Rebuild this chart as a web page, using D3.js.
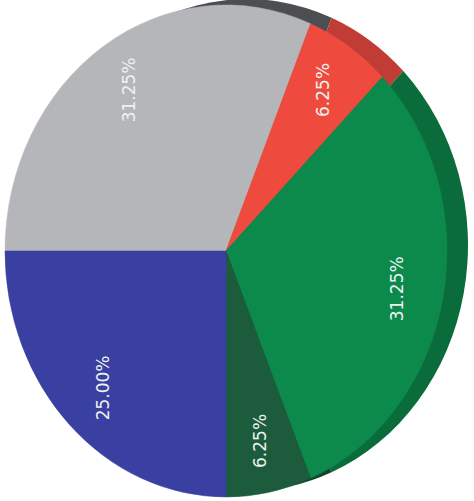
<!DOCTYPE html>
<html>
<head>
<meta charset="utf-8">
<script src="https://cdn.jsdelivr.net/npm/d3@7"></script>
<style>
  body { margin: 0; background: #fff; }
  svg { display: block; }
</style>
</head>
<body>
<script>
// slices, clockwise from 9 o'clock
const labels = ["31.25%", "6.25%", "31.25%", "6.25%", "25.00%"];
const values = [31.25, 6.25, 31.25, 6.25, 25.00];
const topColors = ["#b5b6ba", "#ee4b3e", "#0b8a4c", "#1c5b3b", "#3a40a2"];
const sideColors = ["#4d4e52", "#c13c35", "#0a6b3b", "#14442c", "#262a70"];

const width = 474, height = 501;
const cx = 226, cy = 251, r = 221, sy = 246 / 221;

const svg = d3.select("body").append("svg")
    .attr("width", width).attr("height", height);

const pie = d3.pie().value(d => d).sort(null)
    .startAngle(-Math.PI / 2).endAngle(Math.PI * 1.5);
const arcs = pie(values);

const arc = d3.arc().innerRadius(0).outerRadius(r);
const labelArc = d3.arc().innerRadius(174).outerRadius(174);

// side (depth) drawn first, offset up-right
svg.append("g")
    .attr("transform", `translate(${cx + 21},${cy - 6}) scale(1,${sy})`)
    .selectAll("path")
    .data(arcs)
    .join("path")
    .attr("d", arc)
    .attr("fill", (d, i) => sideColors[i]);

svg.append("g")
    .attr("transform", `translate(${cx},${cy}) scale(1,${sy})`)
    .selectAll("path")
    .data(arcs)
    .join("path")
    .attr("d", arc)
    .attr("fill", (d, i) => topColors[i])
    .attr("stroke", (d, i) => topColors[i])
    .attr("stroke-width", 0.5);

svg.append("g")
    .selectAll("text")
    .data(arcs)
    .join("text")
    .attr("transform", d => {
        const [x, y] = labelArc.centroid(d);
        return `translate(${cx + x},${cy + y * sy}) rotate(-90)`;
    })
    .attr("text-anchor", "middle")
    .attr("dy", "0.35em")
    .attr("font-family", "DejaVu Sans, sans-serif")
    .attr("font-size", 17)
    .attr("fill", "#eef3f1")
    .text((d, i) => labels[i]);
</script>
</body>
</html>
